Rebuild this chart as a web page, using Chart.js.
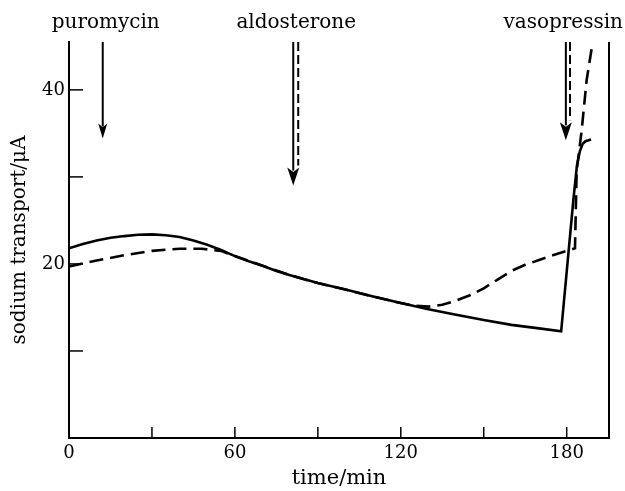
<!DOCTYPE html>
<html>
<head>
<meta charset="utf-8">
<script src="https://cdn.jsdelivr.net/npm/chart.js@4"></script>
<style>
  html, body { margin: 0; padding: 0; background: #fff; }
  #wrap { width: 625px; height: 491px; }
</style>
</head>
<body>
<div id="wrap"><canvas id="sodiumChart"></canvas></div>
<script>
// solid curve (control) -- time/min, sodium transport/uA
var solidTimes = [0, 5, 10, 15, 20, 25, 30, 35, 40, 45, 50, 55, 60, 65, 70, 75, 80, 90, 100, 110, 120, 130, 140, 150, 160, 170, 178, 182.4, 183.7, 184.8, 185.8, 186.8, 188.8];
var solidValues = [21.8, 22.3, 22.7, 23.0, 23.2, 23.35, 23.4, 23.3, 23.1, 22.7, 22.2, 21.6, 20.9, 20.3, 19.8, 19.2, 18.7, 17.8, 17.05, 16.25, 15.5, 14.8, 14.15, 13.55, 13.0, 12.6, 12.25, 27.3, 31.3, 33.0, 33.8, 34.1, 34.3];

// dashed curve (puromycin)
var dashedTimes = [0, 10, 20, 30, 40, 48, 55, 60, 70, 80, 90, 100, 110, 120, 125, 130, 135, 140, 145, 150, 155, 160, 165, 170, 175, 180, 183, 183.6, 185.4, 187.2, 189];
var dashedValues = [19.7, 20.4, 21.0, 21.5, 21.75, 21.75, 21.5, 20.9, 19.8, 18.7, 17.8, 17.05, 16.25, 15.5, 15.2, 15.1, 15.3, 15.8, 16.4, 17.2, 18.2, 19.2, 19.9, 20.45, 21.0, 21.5, 21.8, 30.7, 35.3, 41.1, 44.7];

// tick marks
var xTicks = [0, 30, 60, 90, 120, 150, 180];
var xTickLabels = ['0', '', '60', '', '120', '', '180'];
var yTicks = [0, 10, 20, 30, 40];
var yTickLabels = ['', '', '20', '', '40'];

// additions (arrows): name, time of solid arrow, time of dashed arrow, tip value
var arrowNames = ['puromycin', 'aldosterone', 'vasopressin'];
var arrowTimes = [12.2, 81.1, 179.7];
var arrowDashTimes = [null, 82.9, 181.2];
var arrowTips = [34.4, 29.0, 34.2];

var serif = '"DejaVu Serif", "Liberation Serif", serif';

var toPoints = function (xs, ys) {
    return xs.map(function (x, i) { return {x: x, y: ys[i]}; });
};

function drawArrow(ctx, x, yTop, yTip, headW, headL) {
    ctx.beginPath();
    ctx.moveTo(x, yTop);
    ctx.lineTo(x, yTip - headL + 3);
    ctx.stroke();
    ctx.beginPath();
    ctx.moveTo(x - headW / 2, yTip - headL);
    ctx.lineTo(x, yTip - headL * 0.75);
    ctx.lineTo(x + headW / 2, yTip - headL);
    ctx.lineTo(x, yTip);
    ctx.closePath();
    ctx.fill();
}

// inward ticks, right frame, arrows and their labels
var extrasPlugin = {
    id: 'extras',
    afterDraw: function (chart) {
        var ctx = chart.ctx;
        var xs = chart.scales.x, ys = chart.scales.y;
        var area = chart.chartArea;
        ctx.save();
        ctx.strokeStyle = '#000';
        ctx.fillStyle = '#000';
        ctx.lineWidth = 1.5;
        xTicks.forEach(function (v) {
            if (v === 0) return;
            var px = xs.getPixelForValue(v);
            ctx.beginPath();
            ctx.moveTo(px, area.bottom);
            ctx.lineTo(px, area.bottom - 11);
            ctx.stroke();
        });
        yTicks.forEach(function (v) {
            if (v === 0) return;
            var py = ys.getPixelForValue(v);
            ctx.beginPath();
            ctx.moveTo(area.left, py);
            ctx.lineTo(area.left + 14, py);
            ctx.stroke();
        });
        // right frame
        ctx.lineWidth = 2;
        ctx.beginPath();
        ctx.moveTo(area.right, area.top);
        ctx.lineTo(area.right, area.bottom);
        ctx.stroke();

        // arrows
        var heads = [[9, 15], [12, 18], [12, 18]];
        arrowNames.forEach(function (name, i) {
            var px = xs.getPixelForValue(arrowTimes[i]);
            var tip = ys.getPixelForValue(arrowTips[i]);
            ctx.lineWidth = 2;
            ctx.setLineDash([]);
            drawArrow(ctx, px, area.top, tip, heads[i][0], heads[i][1]);
            if (arrowDashTimes[i] !== null) {
                var dx = xs.getPixelForValue(arrowDashTimes[i]);
                ctx.setLineDash([9, 4]);
                ctx.beginPath();
                ctx.moveTo(dx, area.top);
                ctx.lineTo(dx, tip - heads[i][1] - 2);
                ctx.stroke();
                ctx.setLineDash([]);
            }
            ctx.font = '20px ' + serif;
            ctx.textAlign = 'center';
            ctx.textBaseline = 'alphabetic';
            var w = ctx.measureText(name).width;
            var cx = Math.min(px + 3, chart.width - 2 - w / 2);
            ctx.fillText(name, cx, 28);
        });
        ctx.restore();
    }
};

var chartData = {
    datasets: [{
        label: 'control',
        data: toPoints(solidTimes, solidValues),
        borderColor: '#000',
        borderWidth: 2.6,
        pointRadius: 0,
        tension: 0,
        fill: false
    }, {
        label: 'puromycin',
        data: toPoints(dashedTimes, dashedValues),
        borderColor: '#000',
        borderWidth: 2.6,
        borderDash: [14, 7],
        pointRadius: 0,
        tension: 0,
        fill: false
    }]
};

var chartConfig = {
    type: 'line',
    data: chartData,
    options: {
        responsive: true,
        maintainAspectRatio: false,
        animation: false,
        layout: { padding: { left: 0, right: 16, top: 42, bottom: 0 } },
        plugins: { legend: { display: false }, tooltip: { enabled: false } },
        scales: {
            x: {
                type: 'linear',
                min: 0,
                max: 195.3,
                afterBuildTicks: function (s) { s.ticks = xTicks.map(function (v) { return {value: v}; }); },
                afterFit: function (s) { s.height = 53; },
                grid: { display: false, drawTicks: false },
                border: { display: true, color: '#000', width: 2 },
                ticks: {
                    color: '#000',
                    padding: 5,
                    maxRotation: 0,
                    autoSkip: false,
                    font: { family: serif, size: 18 },
                    callback: function (v, i) { return xTickLabels[i]; }
                },
                title: {
                    display: true,
                    text: 'time/min',
                    color: '#000',
                    padding: { top: 0, bottom: 0 },
                    font: { family: serif, size: 21 }
                }
            },
            y: {
                type: 'linear',
                min: 0,
                max: 45.5,
                afterBuildTicks: function (s) { s.ticks = yTicks.map(function (v) { return {value: v}; }); },
                afterFit: function (s) { s.width = 69; },
                grid: { display: false, drawTicks: false },
                border: { display: true, color: '#000', width: 2 },
                ticks: {
                    color: '#000',
                    padding: 4,
                    autoSkip: false,
                    font: { family: serif, size: 18 },
                    callback: function (v, i) { return yTickLabels[i]; }
                },
                title: {
                    display: true,
                    text: 'sodium transport/μA',
                    color: '#000',
                    padding: { top: 8, bottom: 0 },
                    font: { family: serif, size: 20 }
                }
            }
        }
    },
    plugins: [extrasPlugin]
};

var sodiumChart = new Chart(
    document.getElementById('sodiumChart'),
    chartConfig
);
</script>
</body>
</html>
